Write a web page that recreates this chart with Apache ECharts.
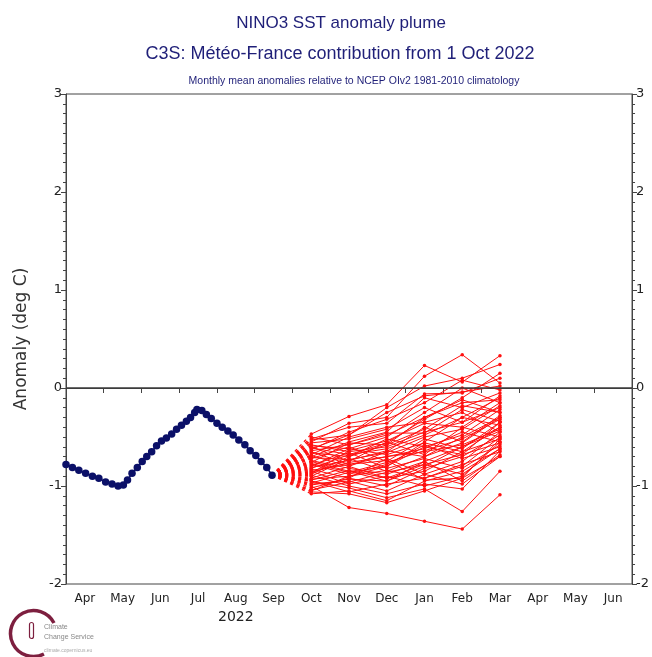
<!DOCTYPE html>
<html style="height: 100%">
<head>
    <meta charset="utf-8">
    <script src="https://cdn.jsdelivr.net/npm/echarts@6/dist/echarts.min.js"></script>
</head>
<body style="height: 100%; margin: 0; background: #fff">
<div id="plume" style="width: 652px; height: 657px;"></div>
<script type="text/javascript">

    // month bands on the x axis, Apr 2022 .. Jun 2023
    const months = ['Apr', 'May', 'Jun', 'Jul', 'Aug', 'Sep', 'Oct', 'Nov', 'Dec', 'Jan', 'Feb', 'Mar', 'Apr', 'May', 'Jun'];
    const yearLabel = '2022';
    const yearUnder = 'Aug';

    // observed anomaly, x in months from 1 Apr 2022
    const obsX = [0.00, 0.17, 0.34, 0.52, 0.70, 0.87, 1.05, 1.22, 1.38, 1.52, 1.63, 1.75, 1.89, 2.02, 2.14, 2.27,
        2.40, 2.53, 2.66, 2.80, 2.93, 3.06, 3.19, 3.30, 3.41, 3.47, 3.60, 3.72, 3.85, 4.00, 4.14, 4.29,
        4.43, 4.58, 4.74, 4.88, 5.03, 5.17, 5.32, 5.46];
    const obsY = [-0.78, -0.81, -0.84, -0.87, -0.90, -0.92, -0.96, -0.98, -1.00, -0.99, -0.94, -0.87, -0.81, -0.75, -0.70, -0.65,
        -0.59, -0.54, -0.51, -0.47, -0.42, -0.38, -0.34, -0.30, -0.25, -0.22, -0.23, -0.27, -0.31, -0.36, -0.40, -0.44,
        -0.48, -0.53, -0.58, -0.64, -0.69, -0.75, -0.81, -0.89];

    // forecast months (mid Oct .. mid Mar)
    const fcX = [6.5, 7.5, 8.5, 9.5, 10.5, 11.5];

    // ensemble members: Oct, Nov, Dec, Jan, Feb, Mar
    const members = [
        [-1.00, -1.22, -1.28, -1.36, -1.44, -1.09],
        [-0.95, -1.02, -1.12, -1.03, -1.26, -0.85],
        [-0.47, -0.29, -0.17, 0.23, 0.06, 0.33],
        [-0.55, -0.36, -0.30, 0.12, 0.34, 0.05],
        [-0.62, -0.48, -0.20, 0.02, 0.10, 0.24],
        [-0.52, -0.40, -0.36, -0.06, -0.05, 0.10],
        [-0.70, -0.55, -0.45, -0.10, -0.20, -0.05],
        [-0.80, -0.62, -0.50, -0.25, 0.00, -0.15],
        [-0.88, -0.70, -0.58, -0.30, -0.12, -0.25],
        [-1.05, -0.90, -0.80, -0.55, -0.30, -0.10],
        [-0.75, -0.85, -0.95, -0.80, -0.60, -0.40],
        [-0.65, -0.78, -0.70, -0.62, -0.45, -0.55],
        [-0.90, -0.72, -0.85, -0.70, -0.50, -0.30],
        [-0.58, -0.65, -0.60, -0.45, -0.35, -0.20],
        [-1.08, -1.05, -1.15, -0.95, -0.85, -0.62],
        [-0.98, -0.95, -1.05, -0.88, -0.98, -0.70],
        [-0.85, -0.98, -0.90, -1.00, -0.90, -0.55],
        [-0.72, -0.60, -0.75, -0.52, -0.62, -0.35],
        [-0.68, -0.50, -0.40, -0.35, -0.25, -0.45],
        [-0.92, -0.80, -0.65, -0.40, -0.55, -0.28],
        [-0.60, -0.75, -0.55, -0.68, -0.40, -0.50],
        [-0.78, -0.88, -0.78, -0.58, -0.72, -0.60],
        [-1.02, -0.92, -1.00, -0.82, -0.70, -0.48],
        [-0.82, -0.68, -0.62, -0.48, -0.30, -0.38],
        [-0.50, -0.58, -0.48, -0.30, -0.15, -0.12],
        [-0.95, -1.06, -0.98, -0.92, -0.78, -0.65],
        [-0.74, -0.82, -0.88, -0.75, -0.95, -0.68],
        [-0.66, -0.70, -0.52, -0.60, -0.48, -0.22],
        [-0.86, -0.76, -0.70, -0.65, -0.58, -0.42],
        [-0.56, -0.52, -0.42, -0.20, -0.35, -0.08],
        [-0.94, -0.84, -0.92, -0.85, -0.65, -0.52],
        [-0.79, -0.66, -0.82, -0.72, -0.82, -0.58],
        [-1.04, -0.96, -0.86, -0.78, -0.68, -0.35],
        [-0.63, -0.45, -0.32, -0.15, 0.08, -0.02],
        [-0.89, -1.00, -1.08, -0.98, -1.03, -0.64],
        [-0.71, -0.73, -0.66, -0.50, -0.42, -0.18],
        [-0.83, -0.92, -0.72, -0.88, -0.75, -0.45],
        [-0.97, -0.86, -0.76, -0.64, -0.52, -0.32],
        [-0.59, -0.62, -0.68, -0.56, -0.65, -0.40],
        [-0.76, -0.56, -0.58, -0.42, -0.18, -0.25],
        [-1.06, -1.08, -1.17, -1.05, -0.92, -0.70],
        [-0.69, -0.80, -0.92, -0.78, -0.88, -0.62],
        [-0.87, -0.64, -0.54, -0.36, -0.40, -0.15],
        [-0.53, -0.48, -0.25, -0.08, -0.04, 0.02],
        [-0.93, -0.90, -0.84, -0.92, -0.80, -0.50],
        [-0.81, -0.74, -0.64, -0.70, -0.56, -0.30],
        [-0.64, -0.58, -0.46, -0.46, -0.22, -0.34],
        [-0.99, -0.93, -0.95, -0.75, -0.60, -0.44],
        [-0.77, -0.86, -0.80, -0.60, -0.68, -0.56],
        [-0.61, -0.68, -0.56, -0.32, -0.10, 0.15],
        [-0.84, -0.78, -0.74, -0.94, -0.92, -0.52]
    ];

    const navy = '#0b1068';
    const red = '#ff1010';
    const titleColor = '#1f1f78';

    var chart = echarts.init(document.getElementById('plume'));

    var lastObs = [obsX[obsX.length - 1], obsY[obsY.length - 1]];

    var series = [];
    // dashed links from the last observation to each member's first month
    series.push({
        type: 'lines',
        coordinateSystem: 'cartesian2d',
        xAxisIndex: 1,
        yAxisIndex: 0,
        silent: true,
        z: 3,
        lineStyle: {color: red, width: 1.3, type: [3, 3.6], opacity: 1},
        data: members.map(function (m) {
            return {coords: [lastObs, [fcX[0], m[0]]]};
        })
    });
    members.forEach(function (m, k) {
        series.push({
            name: 'member' + (k + 1),
            type: 'line',
            xAxisIndex: 1,
            yAxisIndex: 0,
            symbol: 'circle',
            symbolSize: 3.5,
            showSymbol: true,
            silent: true,
            z: 3,
            itemStyle: {color: red},
            lineStyle: {color: red, width: 1},
            data: fcX.map(function (x, i) { return [x, m[i]]; })
        });
    });
    series.push({
        name: 'observed',
        type: 'line',
        xAxisIndex: 1,
        yAxisIndex: 0,
        symbol: 'circle',
        symbolSize: 7.5,
        z: 5,
        itemStyle: {color: navy},
        lineStyle: {color: navy, width: 1.5},
        data: obsX.map(function (x, i) { return [x, obsY[i]]; }),
        markLine: {
            silent: true,
            symbol: 'none',
            label: {show: false},
            lineStyle: {color: '#3a3a3a', width: 1.5, type: 'solid'},
            data: [{yAxis: 0}]
        }
    });

    var yAxisBase = {
        type: 'value',
        min: -2,
        max: 3,
        interval: 1,
        splitLine: {show: false},
        axisLine: {show: true, lineStyle: {color: '#444', width: 1}},
        axisTick: {show: true, length: 5, lineStyle: {color: '#444'}},
        minorTick: {show: true, splitNumber: 10, length: 3, lineStyle: {color: '#444'}},
        axisLabel: {color: '#222', fontFamily: 'DejaVu Sans', fontSize: 13, margin: 4}
    };

    var option = {
        animation: false,
        backgroundColor: '#fff',
        title: [{
            text: 'NINO3 SST anomaly plume',
            left: 336, top: 10, textAlign: 'center',
            textStyle: {color: titleColor, fontFamily: 'Liberation Sans', fontSize: 17, fontWeight: 'normal'}
        }, {
            text: 'C3S: Météo-France contribution from 1 Oct 2022',
            left: 335, top: 40, textAlign: 'center',
            textStyle: {color: titleColor, fontFamily: 'Liberation Sans', fontSize: 18, fontWeight: 'normal'}
        }, {
            text: 'Monthly mean anomalies relative to NCEP OIv2 1981-2010 climatology',
            left: 349, top: 71, textAlign: 'center',
            textStyle: {color: titleColor, fontFamily: 'Liberation Sans', fontSize: 10.5, fontWeight: 'normal'}
        }],
        grid: {
            left: 66, right: 19, top: 94, bottom: 73,
            show: true, borderColor: '#444', borderWidth: 1, backgroundColor: '#fff'
        },
        xAxis: [{
            type: 'category',
            data: months,
            boundaryGap: true,
            position: 'bottom',
            axisLine: {show: true, lineStyle: {color: '#444'}},
            axisTick: {show: true, length: 5, lineStyle: {color: '#444'}},
            axisLabel: {
                interval: 0,
                margin: 7,
                color: '#222',
                fontFamily: 'DejaVu Sans',
                fontSize: 12,
                formatter: function (v, i) {
                    return (v === yearUnder && i === 4) ? '{m|' + v + '}\n{y|' + yearLabel + '}' : '{m|' + v + '}';
                },
                rich: {
                    m: {fontFamily: 'DejaVu Sans', fontSize: 12, color: '#222', lineHeight: 16},
                    y: {fontFamily: 'DejaVu Sans', fontSize: 14, color: '#222', lineHeight: 20}
                }
            },
            splitLine: {show: false}
        }, {
            type: 'value',
            min: 0,
            max: 15,
            show: false
        }],
        yAxis: [Object.assign({}, yAxisBase, {
            position: 'left',
            name: 'Anomaly (deg C)',
            nameLocation: 'middle',
            nameGap: 36,
            nameTextStyle: {color: '#333', fontFamily: 'DejaVu Sans', fontSize: 17}
        }), Object.assign({}, yAxisBase, {
            position: 'right'
        })],
        graphic: [{
            type: 'arc',
            left: 8, top: 608,
            shape: {cx: 26, cy: 26, r: 23, startAngle: Math.PI * 0.35, endAngle: Math.PI * 1.85},
            style: {stroke: '#7d1f3f', lineWidth: 3.5, fill: null}
        }, {
            type: 'rect',
            left: 27, top: 620,
            shape: {x: 0, y: 0, width: 4, height: 16, r: 2},
            style: {fill: null, stroke: '#7d1f3f', lineWidth: 1.2}
        }, {
            type: 'text',
            left: 44, top: 622,
            style: {text: 'Climate\nChange Service', fill: '#888', font: '7px "Liberation Sans"', lineHeight: 10}
        }, {
            type: 'text',
            left: 44, top: 648,
            style: {text: 'climate.copernicus.eu', fill: '#aaa', font: '5px "Liberation Sans"'}
        }],
        series: series
    };

    chart.setOption(option, true);

</script>
</body>
</html>
